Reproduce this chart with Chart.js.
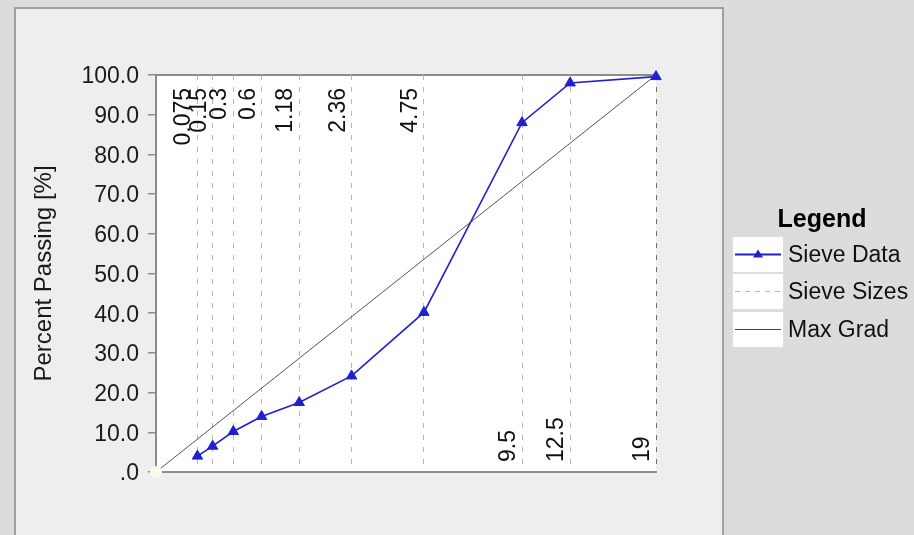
<!DOCTYPE html>
<html>
<head>
<meta charset="utf-8">
<title>Gradation chart</title>
<script src="https://cdn.jsdelivr.net/npm/chart.js@4.4.1/dist/chart.umd.min.js"></script>
<style>
  html, body { margin: 0; padding: 0; background: #dcdcdc; }
  canvas { display: block; }
</style>
</head>
<body>
<canvas id="gradChart" width="914" height="535"></canvas>
<script>
/* ── Data ─────────────────────────────────────────────────── */
var SIEVE_SIZES     = [0.075, 0.15, 0.3, 0.6, 1.18, 2.36, 4.75, 9.5, 12.5, 19];
var PERCENT_PASSING = [4.0, 6.5, 10.2, 14.0, 17.5, 24.2, 40.2, 88.0, 98.0, 99.6];
var MAX_GRAD_SIZES  = [0, 19];
var MAX_GRAD_PASS   = [0, 100];
var Y_MIN = 0, Y_MAX = 100, Y_STEP = 10;
var POWER = 0.45;   // 0.45 power gradation chart

var FONT = "'Liberation Sans', Arial, sans-serif";
var BLUE = '#2020d0';

/* ── x axis: size raised to the 0.45 power ───────────────── */
class PowerScale extends Chart.LinearScale {
  getPixelForValue(value) {
    if (value === null || value === undefined) return NaN;
    var a = Math.pow(this.min, POWER), b = Math.pow(this.max, POWER);
    return this.getPixelForDecimal((Math.pow(value, POWER) - a) / (b - a));
  }
  getValueForPixel(pixel) {
    var a = Math.pow(this.min, POWER), b = Math.pow(this.max, POWER);
    return Math.pow(a + this.getDecimalForPixel(pixel) * (b - a), 1 / POWER);
  }
}
PowerScale.id = 'power';
PowerScale.defaults = Chart.LinearScale.defaults;
Chart.register(PowerScale);

/* ── panel, plot background and top border ───────────────── */
var framePlugin = {
  id: 'frame',
  beforeDraw: function(chart) {
    var ctx = chart.ctx, a = chart.chartArea;
    ctx.save();
    ctx.fillStyle = '#dcdcdc';
    ctx.fillRect(0, 0, chart.width, chart.height);
    ctx.fillStyle = '#eeeeee';
    ctx.fillRect(15, 8, 708, chart.height);
    ctx.strokeStyle = '#a0a0a0';
    ctx.lineWidth = 2;
    ctx.strokeRect(15, 8, 708, chart.height + 10);
    ctx.fillStyle = '#ffffff';
    ctx.fillRect(a.left, a.top, a.right - a.left, a.bottom - a.top);
    ctx.strokeStyle = '#8c8c8c';
    ctx.lineWidth = 2;
    ctx.beginPath();
    ctx.moveTo(a.left, a.top);
    ctx.lineTo(a.right, a.top);
    ctx.stroke();
    ctx.restore();
  }
};

/* ── rotated sieve size labels ───────────────────────────── */
var sieveLabelPlugin = {
  id: 'sieveLabels',
  afterDatasetsDraw: function(chart) {
    var ctx = chart.ctx, a = chart.chartArea, xs = chart.scales.x;
    ctx.save();
    ctx.font = '23px ' + FONT;
    ctx.fillStyle = '#111';
    ctx.textBaseline = 'alphabetic';
    SIEVE_SIZES.forEach(function(s, i) {
      var x = xs.getPixelForValue(s) - 7;
      var low = PERCENT_PASSING[i] < 50;   // label goes where the curve isn't
      ctx.save();
      if (low) {
        ctx.translate(x, a.top + 13);
        ctx.rotate(-Math.PI / 2);
        ctx.textAlign = 'right';
      } else {
        ctx.translate(x, a.bottom - 10);
        ctx.rotate(-Math.PI / 2);
        ctx.textAlign = 'left';
      }
      ctx.fillText(String(s), 0, 0);
      ctx.restore();
    });
    ctx.restore();
  }
};

/* ── legend box on the right ─────────────────────────────── */
var legendPlugin = {
  id: 'sideLegend',
  afterDraw: function(chart) {
    var ctx = chart.ctx;
    var bx = 733, bw = 50, bh = 35;
    var rows = [
      { label: 'Sieve Data',  y: 237 },
      { label: 'Sieve Sizes', y: 274 },
      { label: 'Max Grad',    y: 312 }
    ];
    ctx.save();
    ctx.font = 'bold 25px ' + FONT;
    ctx.fillStyle = '#000';
    ctx.textAlign = 'center';
    ctx.textBaseline = 'alphabetic';
    ctx.fillText('Legend', 822, 227);

    ctx.font = '23px ' + FONT;
    ctx.textAlign = 'left';
    ctx.textBaseline = 'middle';
    rows.forEach(function(r, i) {
      var cy = r.y + bh / 2;
      ctx.fillStyle = '#ffffff';
      ctx.fillRect(bx, r.y, bw, bh);
      ctx.beginPath();
      if (i === 0) {
        ctx.strokeStyle = BLUE; ctx.lineWidth = 2; ctx.setLineDash([]);
      } else if (i === 1) {
        ctx.strokeStyle = '#b4b4b4'; ctx.lineWidth = 1; ctx.setLineDash([5, 5]);
      } else {
        ctx.strokeStyle = '#444'; ctx.lineWidth = 1; ctx.setLineDash([]);
      }
      ctx.moveTo(bx + 2, cy);
      ctx.lineTo(bx + bw - 2, cy);
      ctx.stroke();
      ctx.setLineDash([]);
      if (i === 0) {
        ctx.fillStyle = BLUE;
        ctx.beginPath();
        ctx.moveTo(bx + bw / 2, cy - 5);
        ctx.lineTo(bx + bw / 2 + 5, cy + 3);
        ctx.lineTo(bx + bw / 2 - 5, cy + 3);
        ctx.closePath();
        ctx.fill();
      }
      ctx.fillStyle = '#111';
      ctx.fillText(r.label, bx + 55, cy + 1);
    });
    ctx.restore();
  }
};

/* ── Chart ───────────────────────────────────────────────── */
function renderGradChart() {
  var canvas = document.getElementById('gradChart');
  if (!canvas || typeof Chart === 'undefined') return;

  var sieveData = SIEVE_SIZES.map(function(s, i) { return { x: s, y: PERCENT_PASSING[i] }; });
  var maxGrad = MAX_GRAD_SIZES.map(function(s, i) { return { x: s, y: MAX_GRAD_PASS[i] }; });

  new Chart(canvas, {
    type: 'line',
    data: {
      datasets: [
        {
          label: 'Max Grad', data: maxGrad,
          borderColor: '#555', borderWidth: 1,
          pointRadius: [6, 0], pointBackgroundColor: '#fbfbec', pointBorderWidth: 0,
          tension: 0, clip: false, order: 2
        },
        {
          label: 'Sieve Data', data: sieveData,
          borderColor: BLUE, borderWidth: 1.6,
          pointStyle: 'triangle', pointRadius: 6,
          pointBackgroundColor: BLUE, pointBorderColor: BLUE, pointBorderWidth: 1,
          tension: 0, clip: false, order: 1
        }
      ]
    },
    options: {
      responsive: false, animation: false, devicePixelRatio: 1,
      layout: { padding: { left: 15, top: 75, right: 258, bottom: 63 } },
      plugins: { legend: { display: false }, tooltip: { enabled: false } },
      scales: {
        x: {
          type: 'power', min: 0, max: 19,
          afterBuildTicks: function(scale) {
            scale.ticks = SIEVE_SIZES.map(function(s) { return { value: s }; });
          },
          afterFit: function(scale) { scale.height = 0; },
          ticks: { display: false },
          grid: {
            drawTicks: false,
            color: function(c) { return c.tick && c.tick.value === 19 ? '#6e6e6e' : '#b8b8b8'; },
            lineWidth: 1
          },
          border: { display: true, color: '#8c8c8c', width: 2, dash: [5, 7] }
        },
        y: {
          min: Y_MIN, max: Y_MAX,
          afterFit: function(scale) { scale.width = 141; },
          ticks: {
            stepSize: Y_STEP, padding: 9, color: '#1a1a1a', labelOffset: 2,
            font: { size: 23, family: FONT },
            callback: function(v) { return v === 0 ? '.0' : v.toFixed(1); }
          },
          grid: { drawOnChartArea: false, drawTicks: true, tickLength: 8, tickColor: '#8c8c8c', lineWidth: 1.5 },
          border: { display: true, color: '#8c8c8c', width: 2 },
          title: {
            display: true, text: 'Percent Passing [%]', color: '#1a1a1a',
            font: { size: 24, family: FONT }, padding: { top: 15, bottom: 0 }
          }
        }
      }
    },
    plugins: [framePlugin, sieveLabelPlugin, legendPlugin]
  });
}

renderGradChart();
</script>
</body>
</html>
